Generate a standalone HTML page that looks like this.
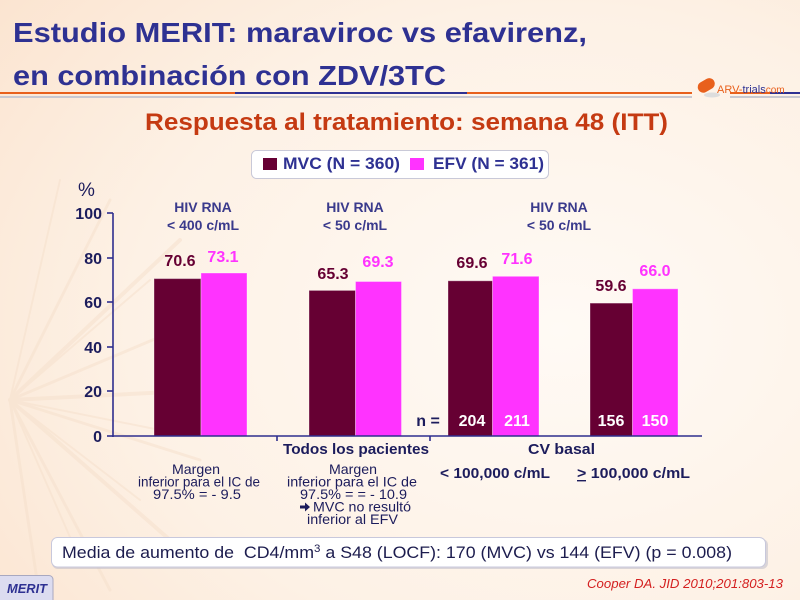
<!DOCTYPE html>
<html><head><meta charset="utf-8"><style>
html,body{margin:0;padding:0;width:800px;height:600px;overflow:hidden;background:#fdf1e6}
svg{display:block}
text{font-family:"Liberation Sans",Arial,sans-serif}
</style></head><body>
<svg width="800" height="600" viewBox="0 0 800 600" xmlns="http://www.w3.org/2000/svg">
<defs>
<radialGradient id="bg" cx="0.7" cy="0.55" r="0.9">
<stop offset="0" stop-color="#fffaf5"/>
<stop offset="0.6" stop-color="#fdf1e5"/>
<stop offset="1" stop-color="#fbe4d0"/>
</radialGradient>
</defs>
<rect width="800" height="600" fill="url(#bg)"/>
<g stroke="#f6e0cc" stroke-linecap="round" opacity="0.5">
<line x1="10" y1="400" x2="180" y2="240" stroke-width="4"/>
<line x1="10" y1="400" x2="200" y2="320" stroke-width="3"/>
<line x1="10" y1="400" x2="210" y2="390" stroke-width="4"/>
<line x1="10" y1="400" x2="200" y2="460" stroke-width="3"/>
<line x1="10" y1="400" x2="170" y2="540" stroke-width="4"/>
<line x1="10" y1="400" x2="110" y2="590" stroke-width="3"/>
<line x1="10" y1="400" x2="40" y2="600" stroke-width="3"/>
<line x1="10" y1="400" x2="110" y2="200" stroke-width="3"/>
<line x1="10" y1="400" x2="60" y2="180" stroke-width="2"/>
<line x1="10" y1="400" x2="150" y2="280" stroke-width="2"/>
<line x1="10" y1="400" x2="160" y2="430" stroke-width="2"/>
<line x1="10" y1="400" x2="140" y2="500" stroke-width="2"/>
<line x1="10" y1="400" x2="80" y2="560" stroke-width="2"/>
</g>

<!-- Title -->
<text x="13" y="42" font-size="28" font-weight="bold" fill="#2E3192" textLength="574" lengthAdjust="spacingAndGlyphs">Estudio MERIT: maraviroc vs efavirenz,</text>
<text x="13" y="85" font-size="28" font-weight="bold" fill="#2E3192" textLength="433" lengthAdjust="spacingAndGlyphs">en combinación con ZDV/3TC</text>

<!-- rules -->
<rect x="0" y="92" width="235" height="2" fill="#E8601C"/>
<rect x="235" y="92" width="232" height="2" fill="#2E3192"/>
<rect x="467" y="92" width="225" height="2" fill="#E8601C"/>
<rect x="730" y="92" width="40" height="2" fill="#E8601C"/>
<rect x="770" y="92" width="30" height="2" fill="#2E3192"/>
<rect x="0" y="96" width="692" height="2" fill="#c8c8d0"/>
<rect x="730" y="96" width="70" height="2" fill="#c8c8d0"/>

<!-- logo -->
<g>
<rect x="697" y="80" width="18" height="11" rx="5.5" fill="#E8601C" transform="rotate(-30 706 85)"/>
<ellipse cx="712" cy="95" rx="8" ry="2.5" fill="#ddd"/>
<text x="717" y="93" font-size="11" fill="#E8601C">ARV-<tspan fill="#2E3192">trials</tspan><tspan fill="#E8601C" font-size="10">com</tspan></text>
</g>

<!-- Subtitle -->
<text x="145" y="130" font-size="24" font-weight="bold" fill="#C53A12" textLength="523" lengthAdjust="spacingAndGlyphs">Respuesta al tratamiento: semana 48 (ITT)</text>

<!-- Legend -->
<rect x="251.5" y="150.5" width="297" height="28" rx="5" fill="#ffffff" stroke="#c9c9d8" stroke-width="1"/>
<rect x="263" y="158" width="14" height="12" fill="#660033"/>
<text x="283" y="169" font-size="17" font-weight="bold" fill="#2E3192" textLength="117" lengthAdjust="spacingAndGlyphs">MVC (N = 360)</text>
<rect x="410" y="158" width="14" height="12" fill="#FF33FF"/>
<text x="433" y="169" font-size="17" font-weight="bold" fill="#2E3192" textLength="111" lengthAdjust="spacingAndGlyphs">EFV (N = 361)</text>

<!-- % -->
<text x="78" y="196" font-size="19" fill="#1c1c5c">%</text>

<!-- group headers -->
<g font-size="14" font-weight="bold" fill="#3A3A8C" text-anchor="middle">
<text x="203" y="212">HIV RNA</text>
<text x="203" y="230">&lt; 400 c/mL</text>
<text x="355" y="212">HIV RNA</text>
<text x="355" y="230">&lt; 50 c/mL</text>
<text x="559" y="212">HIV RNA</text>
<text x="559" y="230">&lt; 50 c/mL</text>
</g>

<!-- bars -->
<g stroke="#ffffff" stroke-opacity="0.35" stroke-width="1">
<rect x="154" y="278.6" width="47" height="157.4" fill="#660033"/>
<rect x="201" y="273" width="46" height="163" fill="#FF33FF"/>
<rect x="309" y="290.4" width="46.5" height="145.6" fill="#660033"/>
<rect x="355.5" y="281.5" width="46" height="154.5" fill="#FF33FF"/>
<rect x="448" y="280.8" width="44.5" height="155.2" fill="#660033"/>
<rect x="492.5" y="276.3" width="46.5" height="159.7" fill="#FF33FF"/>
<rect x="590" y="303.1" width="42.5" height="132.9" fill="#660033"/>
<rect x="632.5" y="288.8" width="45.5" height="147.2" fill="#FF33FF"/>
</g>

<!-- value labels -->
<g font-size="16" font-weight="bold" text-anchor="middle">
<text x="180" y="266" fill="#660033">70.6</text>
<text x="223" y="262" fill="#FF33FF">73.1</text>
<text x="333" y="279" fill="#660033">65.3</text>
<text x="378" y="267" fill="#FF33FF">69.3</text>
<text x="472" y="268" fill="#660033">69.6</text>
<text x="517" y="264" fill="#FF33FF">71.6</text>
<text x="611" y="291" fill="#660033">59.6</text>
<text x="655" y="276" fill="#FF33FF">66.0</text>
</g>

<!-- n = -->
<g font-size="16" font-weight="bold" text-anchor="middle" fill="#ffffff">
<text x="428" y="426" fill="#1c1c5c">n =</text>
<text x="472" y="426">204</text>
<text x="517" y="426">211</text>
<text x="611" y="426">156</text>
<text x="655" y="426">150</text>
</g>

<!-- axes -->
<g stroke="#2E2E8E" stroke-width="1.6" fill="none">
<line x1="113" y1="213" x2="113" y2="437"/>
<line x1="112" y1="436" x2="702" y2="436"/>
<line x1="107" y1="213" x2="113" y2="213"/>
<line x1="107" y1="258" x2="113" y2="258"/>
<line x1="107" y1="302" x2="113" y2="302"/>
<line x1="107" y1="347" x2="113" y2="347"/>
<line x1="107" y1="391" x2="113" y2="391"/>
<line x1="107" y1="436" x2="113" y2="436"/>
<line x1="277" y1="436" x2="277" y2="441"/>
<line x1="430" y1="436" x2="430" y2="441"/>
</g>
<g font-size="16" font-weight="bold" fill="#1c1c5c" text-anchor="end">
<text x="102" y="219">100</text>
<text x="102" y="264">80</text>
<text x="102" y="308">60</text>
<text x="102" y="353">40</text>
<text x="102" y="397">20</text>
<text x="102" y="442">0</text>
</g>

<!-- category labels -->
<g font-size="15" font-weight="bold" fill="#1c1c5c">
<text x="283" y="454" textLength="146" lengthAdjust="spacingAndGlyphs">Todos los pacientes</text>
<text x="528" y="454" textLength="67" lengthAdjust="spacingAndGlyphs">CV basal</text>
<text x="440" y="478" textLength="110" lengthAdjust="spacingAndGlyphs">&lt; 100,000 c/mL</text>
<text x="577" y="478" textLength="113" lengthAdjust="spacingAndGlyphs">&gt; 100,000 c/mL</text>
</g>
<rect x="577" y="480" width="9" height="1.4" fill="#1c1c5c"/>

<!-- margin notes -->
<g font-size="14" fill="#1c1c5c">
<text x="172" y="474" textLength="48" lengthAdjust="spacingAndGlyphs">Margen</text>
<text x="138" y="486.5" textLength="122" lengthAdjust="spacingAndGlyphs">inferior para el IC de</text>
<text x="153" y="499" textLength="88" lengthAdjust="spacingAndGlyphs">97.5% = - 9.5</text>
<text x="329" y="474" textLength="48" lengthAdjust="spacingAndGlyphs">Margen</text>
<text x="287" y="486.5" textLength="130" lengthAdjust="spacingAndGlyphs">inferior para el IC de</text>
<text x="300" y="499" textLength="107" lengthAdjust="spacingAndGlyphs">97.5% = = - 10.9</text>
<text x="313" y="511.5" textLength="98" lengthAdjust="spacingAndGlyphs">MVC no resultó</text>
<text x="307" y="524" textLength="91" lengthAdjust="spacingAndGlyphs">inferior al EFV</text>
</g>
<path d="M300,505.5 h5 v-3 l5,4.5 l-5,4.5 v-3 h-5 z" fill="#1c1c5c"/>

<!-- bottom box -->
<rect x="52" y="539" width="716" height="30" rx="6" fill="#b8b8c8" opacity="0.5"/>
<rect x="51.5" y="537.5" width="714" height="29.5" rx="6" fill="#ffffff" stroke="#c8c8dc" stroke-width="1"/>
<text x="62" y="558" font-size="17" fill="#1c1c4e" xml:space="preserve" style="white-space:pre" textLength="670" lengthAdjust="spacingAndGlyphs">Media de aumento de  CD4/mm<tspan font-size="11" dy="-6">3</tspan><tspan dy="6"> a S48 (LOCF): 170 (MVC) vs 144 (EFV) (p = 0.008)</tspan></text>

<!-- citation -->
<text x="587" y="588" font-size="13" font-style="italic" fill="#D42020" textLength="196" lengthAdjust="spacingAndGlyphs">Cooper DA. JID 2010;201:803-13</text>

<!-- MERIT tag -->
<rect x="-4" y="575.5" width="57" height="28" rx="4" fill="#dcdcf0" stroke="#a8a8c0" stroke-width="1"/>
<text x="7" y="593" font-family="Liberation Serif,serif" font-size="13" font-weight="bold" font-style="italic" fill="#2E3192" textLength="40" lengthAdjust="spacingAndGlyphs">MERIT</text>
</svg>
</body></html>
